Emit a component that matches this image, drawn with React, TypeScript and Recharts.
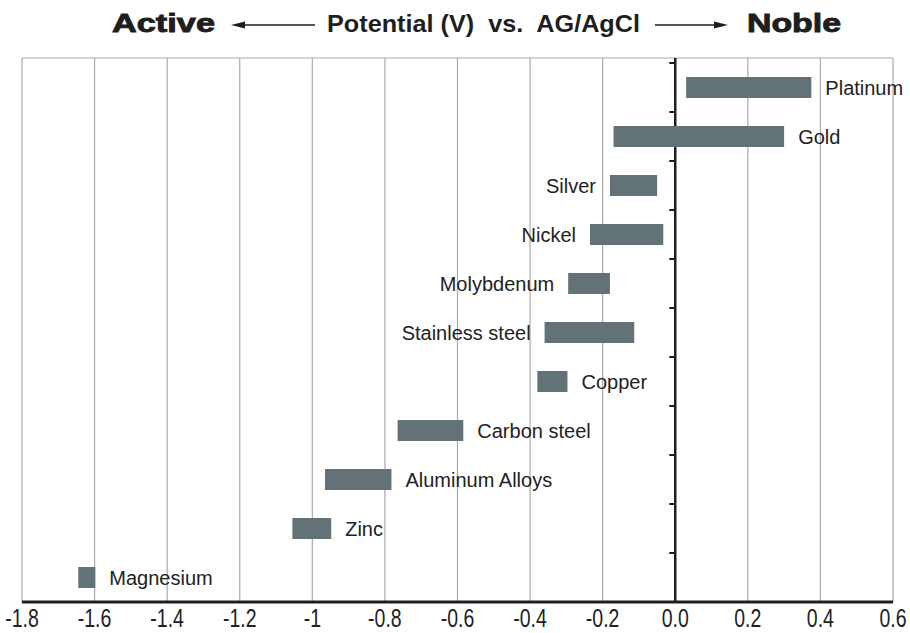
import React from 'react';
import { BarChart, Bar, XAxis, YAxis, CartesianGrid, LabelList } from 'recharts';

// galvanic series, potential range of each metal (V vs. Ag/AgCl)
const metals = [
  'Platinum', 'Gold', 'Silver', 'Nickel', 'Molybdenum', 'Stainless steel',
  'Copper', 'Carbon steel', 'Aluminum Alloys', 'Zinc', 'Magnesium',
];
const lowV = [0.03, -0.17, -0.18, -0.235, -0.295, -0.36, -0.38, -0.765, -0.965, -1.055, -1.645];
const highV = [0.375, 0.3, -0.05, -0.033, -0.18, -0.113, -0.297, -0.584, -0.782, -0.948, -1.598];
const leftLabelled = ['Silver', 'Nickel', 'Molybdenum', 'Stainless steel'];
const xTicks = [-1.8, -1.6, -1.4, -1.2, -1, -0.8, -0.6, -0.4, -0.2, 0, 0.2, 0.4, 0.6];

const data = metals.map((name, i) => ({ name, range: [lowV[i], highV[i]] }));

const INK = '#1e1e1e';
const BAR = '#637277';
const GRID = '#aaaaaa';
const SANS = '"Liberation Sans", Arial, Helvetica, sans-serif';
const TOP_PAD = 5;

// rough Helvetica advance widths, used to squeeze tick labels into a condensed look
const glyphW = (s: string) =>
  s.split('').reduce((w, c) => w + (c === '.' ? 0.278 : c === '-' ? 0.333 : 0.556), 0);

const XTick = (props: any) => {
  const { x, y, payload } = props;
  const v = payload.value;
  const label = v === 0 ? '0.0' : String(Math.round(v * 10) / 10);
  const fs = 25;
  return (
    <text
      x={x}
      y={y + 17}
      textAnchor="middle"
      fontSize={fs}
      fontFamily={SANS}
      fill="#222"
      textLength={glyphW(label) * fs * 0.78}
      lengthAdjust="spacingAndGlyphs"
    >
      {label}
    </text>
  );
};

// vertical grid lines; the one at 0 V is the dark axis with a mark between metal bands
const GridLine = (props: any) => {
  const { x1, y1, y2, index } = props;
  const top = Math.min(y1, y2);
  const bottom = Math.max(y1, y2);
  if (xTicks[index] !== 0) {
    return <line x1={x1} y1={top} x2={x1} y2={bottom} stroke={GRID} strokeWidth={1.2} />;
  }
  const band = (bottom - top - TOP_PAD) / metals.length;
  return (
    <g>
      <line x1={x1} y1={top} x2={x1} y2={bottom} stroke={INK} strokeWidth={2.5} />
      {metals.map((m, k) => (
        <line key={m} x1={x1 - 6} x2={x1} y1={top + TOP_PAD + k * band} y2={top + TOP_PAD + k * band}
          stroke={INK} strokeWidth={2} />
      ))}
    </g>
  );
};

const renderLabel = (props: any) => {
  const { x, y, width, height, value } = props;
  const left = leftLabelled.includes(value);
  return (
    <text
      x={left ? x - 14 : x + width + 14}
      y={y + height / 2}
      textAnchor={left ? 'end' : 'start'}
      dominantBaseline="central"
      fontSize={20}
      fontFamily={SANS}
      fill="#222"
    >
      {value}
    </text>
  );
};

const Title = () => (
  <svg width={910} height={50} style={{ position: 'absolute', left: 0, top: 0 }}>
    <text x={112} y={32} fontSize={26} fontWeight={900} fontFamily={SANS} fill={INK}
      stroke={INK} strokeWidth={0.9} textLength={103} lengthAdjust="spacingAndGlyphs">Active</text>
    <line x1={240} y1={25} x2={315} y2={25} stroke={INK} strokeWidth={1.5} />
    <polygon points="231,25 245,21.5 245,28.5" fill={INK} />
    <text x={327} y={32} fontSize={24} fontWeight={700} fontFamily={SANS} fill={INK}
      textLength={313} lengthAdjust="spacingAndGlyphs" style={{ whiteSpace: 'pre' }}>
      {'Potential (V)  vs.  AG/AgCl'}
    </text>
    <line x1={655} y1={25} x2={716} y2={25} stroke={INK} strokeWidth={1.5} />
    <polygon points="728,25 714,21.5 714,28.5" fill={INK} />
    <text x={747} y={32} fontSize={26} fontWeight={900} fontFamily={SANS} fill={INK}
      stroke={INK} strokeWidth={0.9} textLength={94} lengthAdjust="spacingAndGlyphs">Noble</text>
  </svg>
);

export default function App() {
  return (
    <div style={{ position: 'absolute', left: 0, top: 0, width: 910, height: 633, background: '#fff' }}>
      <BarChart
        width={910}
        height={633}
        data={data}
        layout="vertical"
        margin={{ top: 58, right: 17, bottom: 6, left: 22 }}
      >
        <CartesianGrid
          stroke={GRID}
          strokeWidth={1.2}
          vertical={GridLine}
          horizontalCoordinatesGenerator={({ offset }: any) => [offset.top]}
        />
        <XAxis
          type="number"
          domain={[-1.8, 0.6]}
          ticks={xTicks}
          interval={0}
          allowDataOverflow
          tickLine={false}
          axisLine={{ stroke: INK, strokeWidth: 3 }}
          tick={<XTick />}
          height={25}
        />
        <YAxis type="category" dataKey="name" hide padding={{ top: TOP_PAD, bottom: 0 }} />
        <Bar dataKey="range" fill={BAR} barSize={21} isAnimationActive={false}>
          <LabelList dataKey="name" content={renderLabel} />
        </Bar>
      </BarChart>
      <Title />
    </div>
  );
}
